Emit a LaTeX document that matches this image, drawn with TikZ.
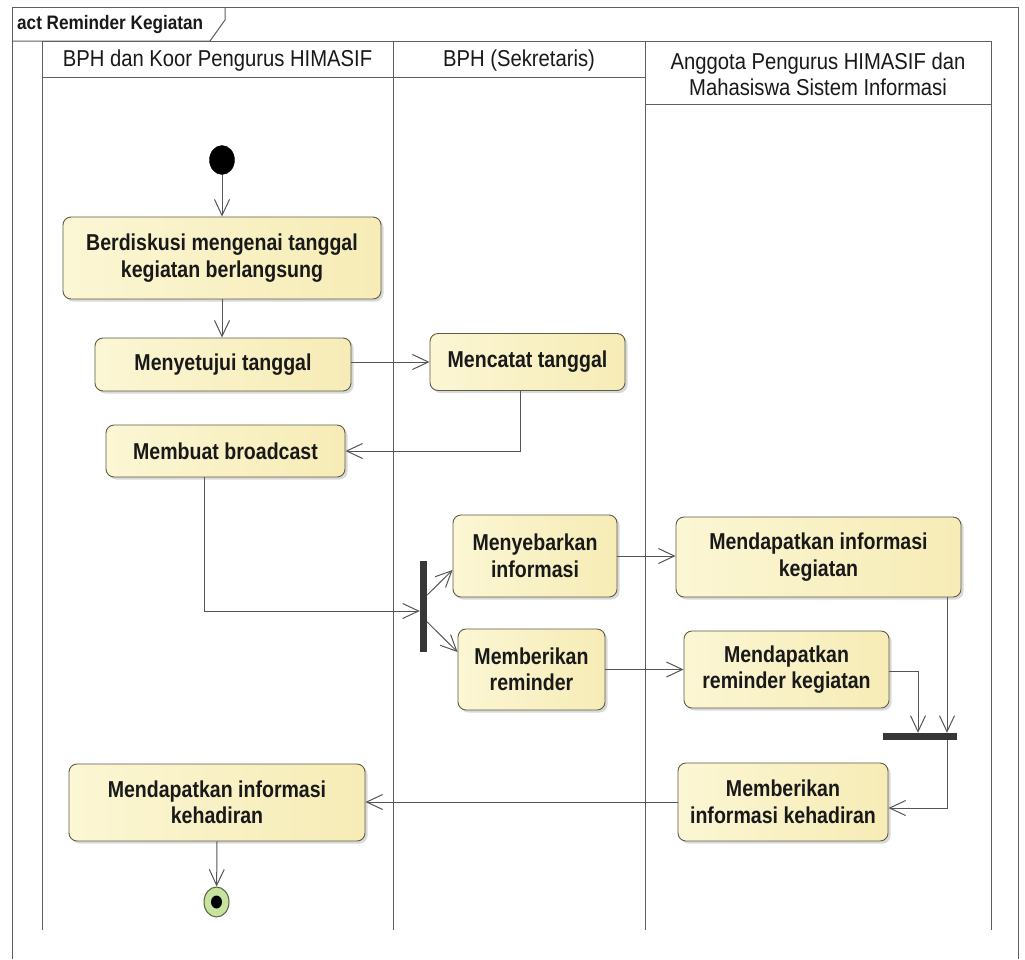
\documentclass[tikz,border=0pt]{standalone}
\usepackage{fontspec}
\setmainfont{Liberation Sans}[FakeStretch=0.88]
\newfontfamily\actfamily{Liberation Sans}[FakeStretch=0.85]
\usetikzlibrary{arrows.meta,shapes.geometric,calc,shadows}
\definecolor{lanecol}{RGB}{95,95,95}
\definecolor{flowcol}{RGB}{85,85,85}
\definecolor{actborder}{RGB}{95,92,70}
\definecolor{actleft}{RGB}{251,246,212}
\definecolor{actright}{RGB}{247,236,182}
\definecolor{textcol}{RGB}{25,25,25}
\definecolor{barcol}{RGB}{55,55,55}
\definecolor{endfill}{RGB}{200,226,160}
\definecolor{endborder}{RGB}{80,100,60}
\newcommand{\actfont}{\actfamily\fontsize{23}{26.5}\selectfont\bfseries}
\newcommand{\hdrfont}{\fontsize{23}{26}\selectfont}
\newcommand{\ttlfont}{\fontsize{19.5}{22}\selectfont\bfseries}
\begin{document}
\begin{tikzpicture}[x=1pt,y=-1pt,
  lane/.style={draw=lanecol, line width=1pt},
  act/.style={draw=actborder, line width=0.9pt, rounded corners=8pt,
    left color=actleft, right color=actright,
    drop shadow={shadow xshift=2.5pt, shadow yshift=-2.5pt, fill=black, opacity=0.15},
    align=center, font=\actfont, text=textcol, inner sep=0pt},
  flow/.style={draw=flowcol, line width=1pt,
    -{Straight Barb[length=16pt,width=15pt,line width=1pt]}},
  bar/.style={fill=barcol, draw=none, inner sep=0pt, rectangle},
  hdr/.style={font=\hdrfont, text=textcol, align=center, inner sep=0pt}
]
\useasboundingbox (0,0) rectangle (1025,959);
\fill[white] (0,0) rectangle (1025,959);

% frame
\draw[lane] (12,959) -- (12,7) -- (1018,7) -- (1018,959);
\draw[lane] (12,41) -- (210,41) -- (225,20) -- (225,7);
\node[anchor=west, font=\ttlfont, text=textcol, inner sep=0pt] (title) at (17,24) {act Reminder Kegiatan};

% lanes
\draw[lane] (42,930) -- (42,41) -- (991,41) -- (991,930);
\draw[lane] (393,41) -- (393,930);
\draw[lane] (645,41) -- (645,930);
\draw[lane] (42,77) -- (645,77);
\draw[lane] (645,104) -- (991,104);
\node[hdr] (h1) at (217.5,61) {BPH dan Koor Pengurus HIMASIF};
\node[hdr] (h2) at (519,61) {BPH (Sekretaris)};
\node[hdr] (h3) at (818,74) {Anggota Pengurus HIMASIF dan\\Mahasiswa Sistem Informasi};

% nodes
\node[ellipse, fill=black, draw=black, minimum width=25pt, minimum height=29pt, inner sep=0pt] (start) at (222,160) {};
\node[act, minimum width=318pt, minimum height=82pt] (a1) at (222,258) {Berdiskusi mengenai tanggal\\kegiatan berlangsung};
\node[act, minimum width=256pt, minimum height=53pt] (a2) at (223,364.5) {Menyetujui tanggal};
\node[act, minimum width=195pt, minimum height=57pt] (a3) at (527.5,362) {Mencatat tanggal};
\node[act, minimum width=239pt, minimum height=52pt] (a4) at (225.5,451) {Membuat broadcast};
\node[bar, minimum width=7pt, minimum height=91pt] (fork) at (423.5,606.5) {};
\node[act, minimum width=164pt, minimum height=82pt] (a5) at (535,556) {Menyebarkan\\informasi};
\node[act, minimum width=147pt, minimum height=81pt] (a6) at (531.5,669.5) {Memberikan\\reminder};
\node[act, minimum width=285pt, minimum height=80pt] (a7) at (818.5,557) {Mendapatkan informasi\\kegiatan};
\node[act, minimum width=205pt, minimum height=77pt] (a8) at (786.5,669.5) {Mendapatkan\\reminder kegiatan};
\node[bar, minimum width=74pt, minimum height=7pt] (join) at (920,736.5) {};
\node[act, minimum width=210pt, minimum height=78pt] (a9) at (783,802) {Memberikan\\informasi kehadiran};
\node[act, minimum width=296pt, minimum height=77pt] (a10) at (217,802.5) {Mendapatkan informasi\\kehadiran};
\node[ellipse, fill=endfill, draw=endborder, line width=1pt, minimum width=25pt, minimum height=30pt, inner sep=0pt] (end) at (216.5,902) {};
\node[ellipse, fill=black, minimum width=11pt, minimum height=13pt, inner sep=0pt] (endin) at (end.center) {};

% flows
\draw[flow] (start) -- (a1.north);
\draw[flow] (a1.south) -- (a1.south |- a2.north);
\draw[flow] (a3.west -| a2.east) -- (a3.west);
\draw[flow] ($(a3.south)+(-7.5,0)$) |- (a4.east);
\draw[flow] ($(a4.south)+(-21.5,0)$) |- ($(fork.west)+(0,4.5)$);
\draw[flow] ($(fork.east)+(0,-11.5)$) -- ($(a5.west)+(0,14)$);
\draw[flow] ($(fork.east)+(0,15.5)$) -- ($(a6.west)+(0,-17.5)$);
\draw[flow] (a5.east) -- (a5.east -| a7.west);
\draw[flow] (a6.east) -- (a6.east -| a8.west);
\draw[flow] ($(a8.east)+(0,2)$) -| ($(join.north)+(-2,0)$);
\draw[flow] ($(a7.south)+(128.5,0)$) -- ($(join.north)+(27,0)$);
\draw[flow] ($(join.south)+(27,0)$) |- ($(a9.east)+(0,6)$);
\draw[flow] (a9.west) -- (a9.west -| a10.east);
\draw[flow] (a10.south) -- (end);
\end{tikzpicture}
\end{document}
